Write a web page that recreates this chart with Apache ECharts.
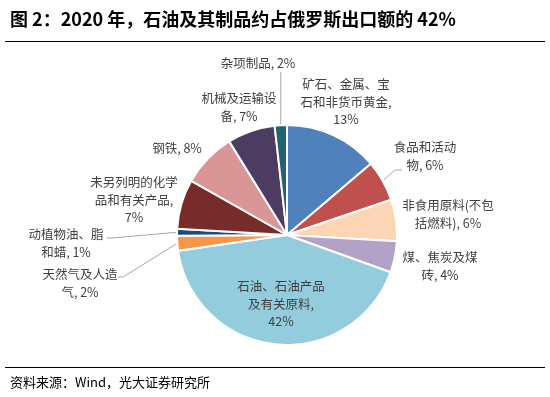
<!DOCTYPE html>
<html>
<head>
<meta charset="utf-8">
<script src="https://cdn.jsdelivr.net/npm/echarts@6/dist/echarts.min.js"></script>
<style>
  html, body { margin: 0; padding: 0; background: #fff; }
  #chart { width: 550px; height: 397px; }
</style>
</head>
<body>
<div id="chart"></div>
<script>
// 出口结构（按图上扇区角度估计的份额）
var names = ['矿石、金属、宝\n石和非货币黄金', '食品和活动\n物', '非食用原料(不包\n括燃料)', '煤、焦炭及煤\n砖',
  '石油、石油产品\n及有关原料', '天然气及人造\n气', '动植物油、脂\n和蜡', '未另列明的化学\n品和有关产品',
  '钢铁', '机械及运输设\n备', '杂项制品'];
var shares = [13.8, 6.0, 6.1, 4.6, 42.2, 2.2, 1.0, 7.3, 8.0, 7.0, 1.8];
// 标签上显示的百分比
var pctText = ['\n13%', ' 6%', ' 6%', ' 4%', '\n42%', ' 2%', ' 1%', '\n7%', ' 8%', ' 7%', ' 2%'];

var colors = ['#4F81BD', '#C0504D', '#FCD5B5', '#B3A2C7', '#93CDDD', '#F79646',
  '#1F497D', '#772C2A', '#D99694', '#4D3C62', '#23636F'];

// 标签位置（中心点）和引导线
var labelPos = [[346, 102], [425, 156], [448, 214], [440, 266], [281, 304], [80, 283],
  [66, 243], [134, 200], [177, 148], [239, 107], [258, 63]];
var lineBends = {
  1: [[395, 170], [402, 170]],
  5: [[123, 277], [118, 277]],
  6: [[112, 238], [107, 238]],
  10: [[null, 100], [null, 72]]
};

var chart = echarts.init(document.getElementById('chart'));

var data = names.map(function (n, i) {
  return {
    name: n,
    value: shares[i],
    itemStyle: { color: colors[i] },
    label: { position: i === 4 ? 'inside' : 'outside' },
    labelLine: { show: lineBends[i] !== undefined }
  };
});

var option = {
  animation: false,
  title: [
    {
      text: '图 2：2020 年，石油及其制品约占俄罗斯出口额的 42%',
      left: 5, top: 5,
      textStyle: { fontFamily: 'Noto Sans CJK SC', fontSize: 18, fontWeight: 'bold', color: '#000' }
    },
    {
      text: '资料来源：Wind，光大证券研究所',
      left: 5, top: 371,
      textStyle: { fontFamily: 'Noto Sans CJK SC', fontSize: 13, fontWeight: 'normal', color: '#000' }
    }
  ],
  graphic: [
    { type: 'line', shape: { x1: 5, y1: 41.5, x2: 545, y2: 41.5 }, style: { stroke: '#000', lineWidth: 1 } },
    { type: 'line', shape: { x1: 5, y1: 367.5, x2: 545, y2: 367.5 }, style: { stroke: '#000', lineWidth: 1 } }
  ],
  series: [{
    type: 'pie',
    center: [287, 235],
    radius: 110,
    startAngle: 90,
    clockwise: true,
    avoidLabelOverlap: false,
    itemStyle: { borderColor: '#fff', borderWidth: 2 },
    label: {
      fontFamily: 'Noto Sans CJK SC',
      fontSize: 12.5,
      lineHeight: 17.5,
      color: '#404040',
      align: 'center',
      formatter: function (p) {
        return p.name + ',' + pctText[p.dataIndex];
      }
    },
    labelLine: { lineStyle: { color: '#A6A6A6', width: 1 } },
    labelLayout: function (params) {
      var i = params.dataIndex;
      var res = {
        x: labelPos[i][0],
        y: labelPos[i][1],
        align: 'center',
        verticalAlign: 'middle'
      };
      var bends = lineBends[i];
      if (bends && params.labelLinePoints) {
        var p0 = params.labelLinePoints[0];
        res.labelLinePoints = [p0].concat(bends.map(function (b) {
          return [b[0] === null ? p0[0] : b[0], b[1]];
        }));
      }
      return res;
    },
    data: data
  }]
};

chart.setOption(option);
</script>
</body>
</html>
